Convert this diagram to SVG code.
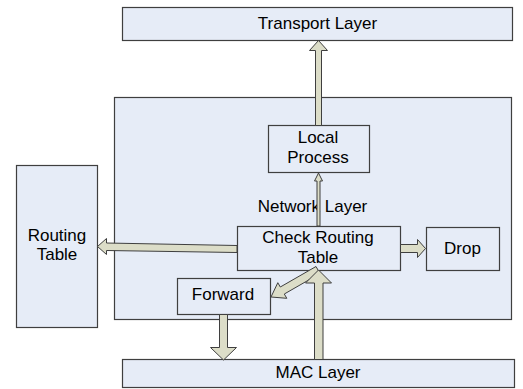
<svg xmlns="http://www.w3.org/2000/svg" width="523" height="389" viewBox="0 0 523 389">
<style>
.box{fill:#E6ECF7;stroke:#3F3F3F;stroke-width:1.2}
.arr{fill:#DCDDC8;stroke:#3F3F3F;stroke-width:1;stroke-linejoin:miter}
text{font-family:"Liberation Sans",Arial,sans-serif;font-size:17px;fill:#000;text-anchor:middle}
</style>
<rect width="523" height="389" fill="#fff"/>
<g id="network-layer"><rect class="box" x="114.5" y="97.5" width="397" height="222"/><text x="312.5" y="212">Network Layer</text></g>
<g id="transport-layer"><rect class="box" x="122.5" y="7.5" width="390" height="33"/><text x="317.5" y="29">Transport Layer</text></g>
<g id="local-process"><rect class="box" x="268.5" y="125.5" width="101" height="47"/><text x="318" y="143">Local</text><text x="318" y="163">Process</text></g>
<g id="routing-table"><rect class="box" x="16.5" y="165.5" width="81" height="162"/><text x="57" y="241">Routing</text><text x="57" y="260">Table</text></g>
<g id="check-routing-table"><rect class="box" x="237.5" y="226.5" width="163" height="44"/><text x="318" y="243">Check Routing</text><text x="318" y="263">Table</text></g>
<g id="drop"><rect class="box" x="426.5" y="227.5" width="73" height="43"/><text x="462.5" y="254">Drop</text></g>
<g id="forward"><rect class="box" x="177.5" y="278.5" width="93" height="36"/><text x="223" y="300">Forward</text></g>
<g id="mac-layer"><rect class="box" x="122.5" y="359.5" width="392" height="28"/><text x="318" y="378">MAC Layer</text></g>
<g id="connectors">
<polygon class="arr" points="315.5,125.5 315.5,50.5 309.5,50.5 318.5,40.5 327.5,50.5 321.5,50.5 321.5,125.5"/>
<polygon class="arr" points="317,226 317,181 314.5,181 318.5,173 322.5,181 320,181 320,226"/>
<polygon class="arr" points="237,245.5 106.5,243 106.5,238.5 97.5,246.5 106.5,254.5 106.5,250.5 237,252.5"/>
<polygon class="arr" points="400.5,244.5 417.5,244.5 417.5,239.5 425.5,248.5 417.5,257.5 417.5,252.5 400.5,252.5"/>
<polygon class="arr" points="316,266.5 320,273.5 284.3,294 286.8,298.3 271,297 277.8,282.7 280.3,287"/>
<polygon class="arr" points="219.5,314.5 219.5,347.5 210.5,347.5 223.5,360 236.5,347.5 227.5,347.5 227.5,314.5"/>
<polygon class="arr" points="314.5,359.5 314.5,283 305.5,283 318.5,270 331.5,283 323,283 323,359.5"/>
</g>
</svg>
